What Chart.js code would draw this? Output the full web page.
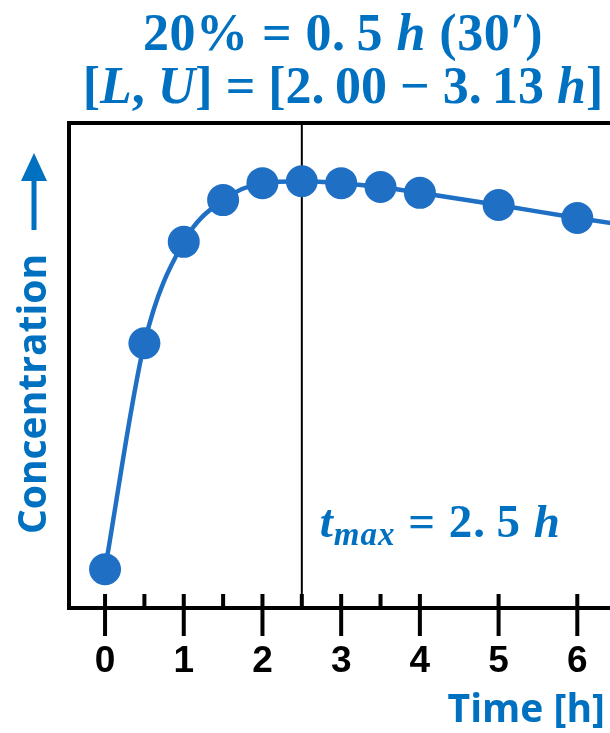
<!DOCTYPE html>
<html>
<head>
<meta charset="utf-8">
<script src="https://cdn.jsdelivr.net/npm/chart.js@4"></script>
<style>
  html, body { margin: 0; padding: 0; background: #fff; overflow: hidden; }
  #wrap { width: 686px; height: 733px; }
</style>
</head>
<body>
<div id="wrap"><canvas id="chart" width="686" height="733"></canvas></div>
<script>
// time points [h] and concentration (arbitrary units)
const timeH = [0, 0.5, 1, 1.5, 2, 2.5, 3, 3.5, 4, 5, 6, 7];
const conc = [8.0, 54.6, 75.5, 84.1, 87.6, 88.0, 87.6, 86.8, 85.6, 83.1, 80.4, 78.0];

const majorTicks = [0, 1, 2, 3, 4, 5, 6, 7];
const minorTicks = [0.5, 1.5, 2.5, 3.5];
const tmax = 2.5;

const blue = '#0070c0';
const pointBlue = '#1f6fc5';
const mathFont = '"Liberation Serif", serif';
const sansFont = '"Open Sans", sans-serif';

// title lines, split into plain / italic pieces (thin space after the decimal point, as in the equation)
const titleLine1 = [
    { t: '20% = 0.\u20095 ' }, { t: 'h', it: true }, { t: ' (30′)' }
];
const titleLine2 = [
    { t: '[' }, { t: 'L', it: true }, { t: ', ' }, { t: 'U', it: true },
    { t: '] = [2.\u200900 − 3.\u200913 ' }, { t: 'h', it: true }, { t: ']' }
];
const tmaxLabel = [
    { t: 't', it: true }, { t: 'max', it: true, sub: true }, { t: ' = 2.\u20095 ' }, { t: 'h', it: true }
];

function segFont(s, size) {
    const sz = s.sub ? Math.round(size * 0.7) : size;
    return (s.it ? 'italic ' : '') + 'bold ' + sz + 'px ' + mathFont;
}

function drawMath(ctx, segs, x, baseline, size, align, spacing) {
    ctx.letterSpacing = (spacing || 0) + 'px';
    let total = 0;
    segs.forEach(s => { ctx.font = segFont(s, size); total += ctx.measureText(s.t).width; });
    let cx = align === 'center' ? x - total / 2 : x;
    ctx.textAlign = 'left';
    ctx.textBaseline = 'alphabetic';
    segs.forEach(s => {
        ctx.font = segFont(s, size);
        ctx.fillText(s.t, cx, baseline + (s.sub ? size * 0.18 : 0));
        cx += ctx.measureText(s.t).width;
    });
    ctx.letterSpacing = '0px';
}

const decorPlugin = {
    id: 'decor',
    beforeDatasetsDraw(chart) {
        const { ctx, chartArea: a, scales: { x } } = chart;
        ctx.save();
        // t max marker
        const px = x.getPixelForValue(tmax);
        ctx.strokeStyle = '#000';
        ctx.lineWidth = 2;
        ctx.beginPath();
        ctx.moveTo(px, a.top);
        ctx.lineTo(px, a.bottom);
        ctx.stroke();
        ctx.restore();
    },
    afterDraw(chart) {
        const { ctx, chartArea: a, scales: { x } } = chart;
        ctx.save();
        // frame
        ctx.strokeStyle = '#000';
        ctx.lineWidth = 4;
        ctx.strokeRect(a.left, a.top, a.right - a.left, a.bottom - a.top);

        // tick marks: major ones cross the axis, minor ones stay inside
        majorTicks.forEach(v => {
            const p = x.getPixelForValue(v);
            ctx.beginPath(); ctx.moveTo(p, a.bottom - 14); ctx.lineTo(p, a.bottom + 28); ctx.stroke();
        });
        minorTicks.forEach(v => {
            const p = x.getPixelForValue(v);
            ctx.beginPath(); ctx.moveTo(p, a.bottom - 14); ctx.lineTo(p, a.bottom); ctx.stroke();
        });

        ctx.fillStyle = blue;
        // title
        drawMath(ctx, titleLine1, 343, 50, 52, 'center', 0.5);
        drawMath(ctx, titleLine2, 343, 103, 52, 'center', 0);
        // t max label
        drawMath(ctx, tmaxLabel, x.getPixelForValue(tmax) + 18, 537, 47, 'left', 1);

        // axis names
        ctx.font = 'bold 39px ' + sansFont;
        ctx.textAlign = 'right';
        ctx.textBaseline = 'alphabetic';
        ctx.fillText('Time [h]', 605, 722);

        ctx.save();
        ctx.translate(46, 394);
        ctx.rotate(-Math.PI / 2);
        ctx.textAlign = 'center';
        ctx.fillText('Concentration', 0, 0);
        ctx.restore();

        // arrow
        ctx.strokeStyle = blue;
        ctx.lineWidth = 5;
        ctx.beginPath(); ctx.moveTo(34, 230); ctx.lineTo(34, 176); ctx.stroke();
        ctx.beginPath();
        ctx.moveTo(34, 153); ctx.lineTo(47, 181); ctx.lineTo(21, 181); ctx.closePath();
        ctx.fill();
        ctx.restore();
    }
};

new Chart(document.getElementById('chart'), {
    type: 'line',
    data: {
        datasets: [{
            label: 'Concentration',
            data: timeH.map((t, i) => ({ x: t, y: conc[i] })),
            borderColor: pointBlue,
            backgroundColor: pointBlue,
            borderWidth: 4.5,
            pointRadius: 16,
            pointBorderWidth: 0,
            cubicInterpolationMode: 'monotone',
            fill: false
        }]
    },
    options: {
        responsive: false,
        animation: false,
        layout: { padding: { top: 123, left: 69, right: 30, bottom: 0 } },
        plugins: {
            legend: { display: false },
            tooltip: { enabled: false }
        },
        scales: {
            x: {
                type: 'linear',
                min: -0.458,
                max: 7.0,
                afterBuildTicks: s => { s.ticks = majorTicks.map(v => ({ value: v })); },
                afterFit: s => { s.height = 125; s.paddingLeft = 0; s.paddingRight = 0; },
                grid: { display: false },
                border: { display: false },
                ticks: {
                    color: '#000',
                    padding: 24,
                    font: { family: '"Liberation Sans", Arial, sans-serif', size: 37, weight: 'bold' }
                }
            },
            y: {
                min: 0,
                max: 100,
                display: false
            }
        }
    },
    plugins: [decorPlugin]
});
</script>
</body>
</html>
